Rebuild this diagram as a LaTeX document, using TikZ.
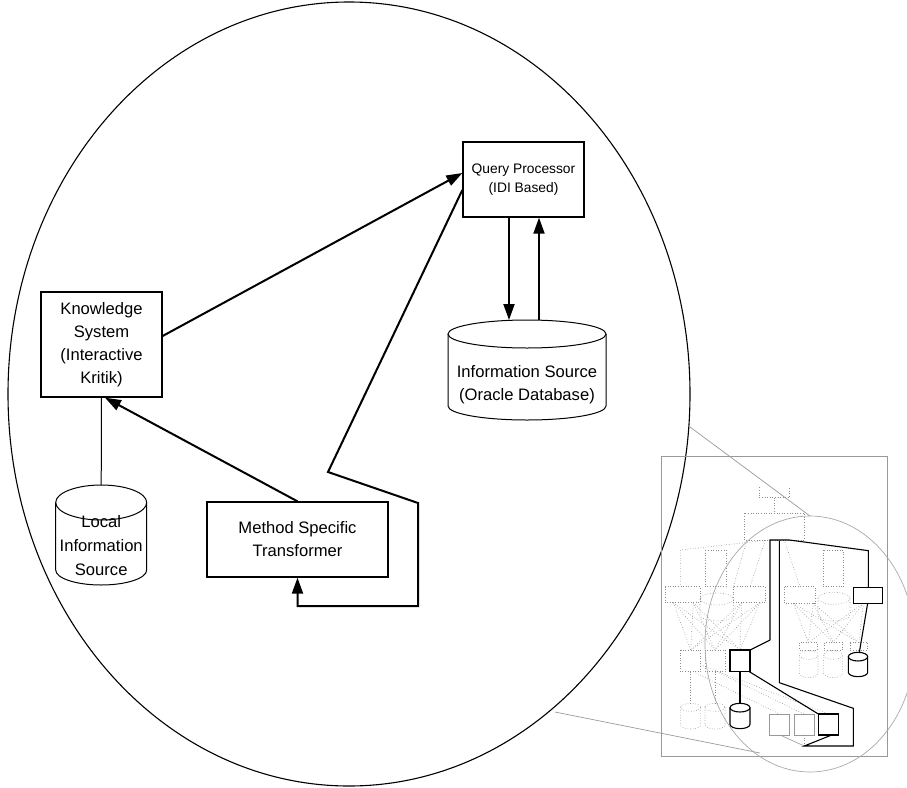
\documentclass[tikz,border=0pt]{standalone}
\usepackage{fontspec}
\setmainfont{Liberation Sans}
\usetikzlibrary{arrows.meta}
\definecolor{ingray}{gray}{0.6}
\definecolor{dotgray}{gray}{0.55}
\newcommand\mainfs{\fontsize{16.6pt}{23pt}\selectfont}
\newcommand\qpfs{\fontsize{13.8pt}{19.3pt}\selectfont}
\newcommand\locfs{\fontsize{16.6pt}{24pt}\selectfont}
% style, cx, rx, ytop-center, ybottom-center, ry top, ry bottom
\newcommand\mycyl[7]{%
  \draw[#1] ({#2-#3},#4) -- ({#2-#3},#5) arc[start angle=180,end angle=0,x radius=#3,y radius=#7] -- ({#2+#3},#4);
  \draw[#1] (#2,#4) ellipse[x radius=#3,y radius=#6];
}
\begin{document}
\begin{tikzpicture}[x=1pt,y=-1pt,
  box/.style={draw,line width=1.3pt,align=center,font=\mainfs,inner sep=0pt},
  txt/.style={align=center,font=\mainfs,inner sep=0pt},
  cyl/.style={draw,line width=1pt},
  arr/.style={line width=2pt,-{Triangle[length=16pt,width=11pt]}},
  gd/.style={draw=dotgray,dotted,line width=0.6pt},
  gs/.style={draw=ingray,line width=0.6pt},
  bk/.style={draw=black,line width=1.1pt}]
\useasboundingbox (0,0) rectangle (907,787);

% big ellipse
\draw[line width=1.1pt] (349,394) ellipse[x radius=341,y radius=392];

% boxes
\node[box,minimum width=121,minimum height=75,font=\qpfs] (qp) at (523.5,179.5) {Query Processor\\(IDI Based)};
\node[box,minimum width=121,minimum height=105] (ks) at (101.5,344.5) {Knowledge\\System\\(Interactive\\Kritik)};
\node[box,minimum width=181,minimum height=75] (mst) at (297.5,539.5) {Method Specific\\Transformer};

% cylinders
\mycyl{cyl}{527}{79}{334}{406}{14}{14}
\node[txt] (is) at (527,385) {Information Source\\(Oracle Database)};
\coordinate (istop) at (527,320);
\mycyl{cyl}{101.2}{45.5}{502.5}{570}{17.5}{15}
\node[txt,font=\locfs] (loc) at (101.2,546) {Local\\Information\\Source};
\coordinate (loctop) at (101.2,485);

% connectors
\draw[arr] ([yshift=8.5pt]ks.east) -- ([yshift=6.5pt]qp.west);
\draw[arr] (mst.north) -- ([xshift=3.5pt]ks.south);
\draw[arr] ([xshift=-14.5pt]qp.south) -- ([xshift=-18pt]istop);
\draw[arr] ([xshift=12pt]istop) -- ([xshift=15.5pt]qp.south);
\draw[arr] ([yshift=-10.5pt]qp.west) -- (328,472) -- (418,503) -- (418,606) -| (mst.south);
\draw[line width=1pt] (ks.south) -- (loctop);

% inset frame and magnifier
\draw[ingray,line width=0.8pt] (661,456) rectangle (887,756);
\draw[ingray,line width=0.7pt] (690,427) -- (810,516);
\draw[ingray,line width=0.7pt] (555,712) -- (760,753);

\begin{scope}[shift={(650,420)},xscale=1/3,yscale=1/3]
% dotted thumbnail
\draw[gd] (328,202)--(328,233)--(418,233)--(418,202);
\draw[gd] (373,233)--(373,280);
\draw[gd] (283,280) rectangle (463,360);
\draw[gd] (355,360)--(92,390)--(92,500);
\draw[gd] (165,390) rectangle (228,500);
\draw[gd] (290,362)--(250,500);
\draw[gd] (345,362)--(300,500);
\draw[gd] (45,500) rectangle (150,548);
\draw[gd] (250,500) rectangle (345,548);
\mycyl{gd}{200}{50}{537}{585}{18}{18}
\foreach \a in {70,130,275,330} \foreach \b in {122,195,270} {\draw[gd] (\a,548)--(\b,690);}
\draw[gd] (92,690) rectangle (152,755);
\draw[gd] (165,690) rectangle (225,755);
\draw[gd] (122,755)--(122,850);
\draw[gd] (195,755)--(195,850);
\mycyl{gd}{122}{30}{862}{915}{12}{12}
\mycyl{gd}{195}{30}{862}{915}{12}{12}
\draw[gd] (130,755)--(388,882);
\draw[gd] (200,755)--(462,882);
\draw[gd] (152,735)--(535,882);
\draw[gd] (405,367)--(450,500);
\draw[gd] (520,390) rectangle (580,500);
\draw[gd] (403,500) rectangle (495,550);
\mycyl{gd}{552}{48}{535}{585}{18}{18}
\foreach \a in {430,490,640} \foreach \b in {475,550,627} {\draw[gd] (\a,550)--(\b,668);}
\draw[gd] (448,668) rectangle (503,690);
\draw[gd] (522,668) rectangle (578,690);
\draw[gd] (600,668) rectangle (653,690);
\mycyl{gd}{476}{28}{705}{760}{13}{13}
\mycyl{gd}{549}{28}{705}{760}{13}{13}
\draw[gs] (358,882) rectangle (418,945);
\draw[gs] (432,882) rectangle (492,945);
\draw[gs] (390,945)--(463,978);
\draw[gd] (463,945)--(463,978);
% highlighted path
\draw[bk] (360,660)--(360,360)--(418,360)--(655,392)--(655,503);
\draw[bk,fill=white] (610,503) rectangle (698,550);
\draw[bk] (653,550)--(628,697);
\mycyl{bk,fill=white}{624}{29}{710}{757}{13}{13}
\draw[bk] (360,660)--(300,690);
\draw[bk,fill=white] (240,690) rectangle (300,755);
\draw[bk] (270,755)--(270,850);
\mycyl{bk,fill=white}{270}{30}{863}{913}{13}{13}
\draw[bk] (298,755)--(505,882);
\draw[bk,fill=white] (505,882) rectangle (565,945);
\draw[bk] (388,362)--(388,788)--(610,865)--(610,978)--(463,978)--(545,945);
\end{scope}
\draw[ingray!85,line width=0.7pt] (810,644) ellipse[x radius=105,y radius=128];
\end{tikzpicture}
\end{document}
